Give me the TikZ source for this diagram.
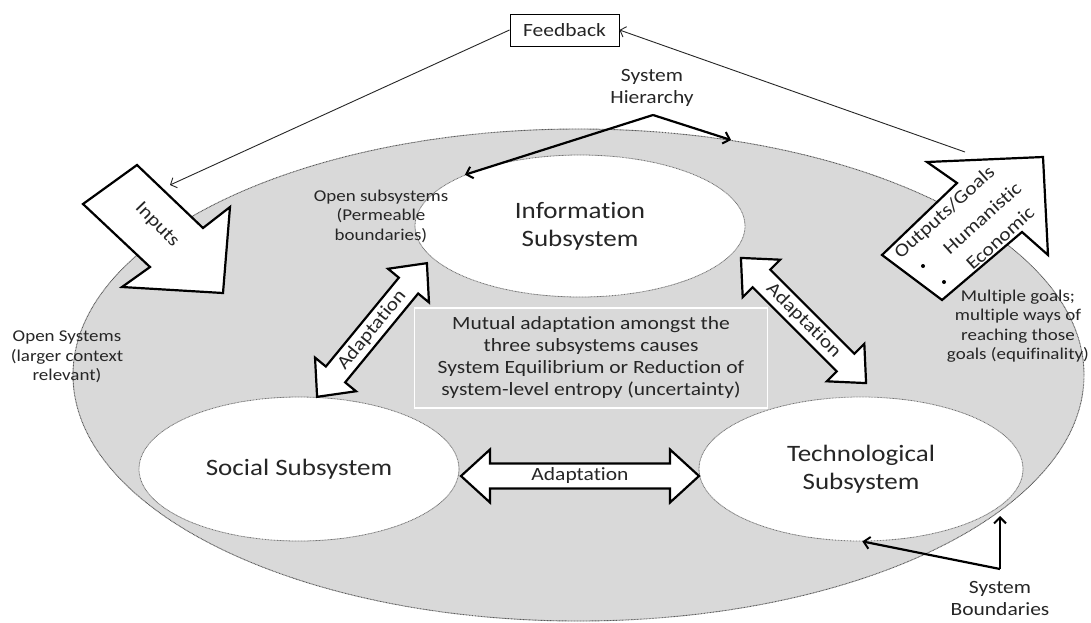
\documentclass[tikz,border=0pt]{standalone}
\usepackage{fontspec}
\setmainfont{Carlito}[FakeStretch=1.15, Ligatures={NoCommon}]
\usetikzlibrary{arrows.meta,shapes.geometric}
\definecolor{bggray}{HTML}{D9D9D9}
\definecolor{txt}{HTML}{262626}
\newcommand{\bigtxt}{\fontsize{23.5}{28}\selectfont}
\newcommand{\medtxt}{\fontsize{18.7}{22}\selectfont}
\newcommand{\smalltxt}{\fontsize{16.5}{19.5}\selectfont}
\newcommand{\blockdbl}[4]{%
  \begin{scope}[shift={#1}, rotate=#2]
    \draw[blockarr] ({-#3/2},0) -- ({-#3/2+29},-26.5) -- ({-#3/2+29},-12.5) -- ({#3/2-29},-12.5) -- ({#3/2-29},-26.5) -- ({#3/2},0) -- ({#3/2-29},26.5) -- ({#3/2-29},12.5) -- ({-#3/2+29},12.5) -- ({-#3/2+29},26.5) -- cycle;
    \node[lbl, rotate=#2, font=\medtxt] at (0,0) {#4};
  \end{scope}}
\begin{document}
\begin{tikzpicture}[x=1pt,y=-1pt,
  lbl/.style={text=txt, align=center, inner sep=0pt},
  bigell/.style={ellipse, draw=black!65, fill=bggray, line width=0.9pt, dash pattern=on 0.9pt off 0.6pt, inner sep=0pt},
  subell/.style={ellipse, draw=black!55, fill=white, line width=0.8pt, dash pattern=on 0.9pt off 0.6pt, inner sep=0pt, text=txt, align=center, font=\bigtxt},
  blockarr/.style={draw=black, line width=2.2pt, fill=white, line join=miter},
  thinarr/.style={draw=black!85, line width=0.9pt, -{Straight Barb[length=5pt,width=11pt,line width=0.9pt]}},
  thickarr/.style={draw=black, line width=2.2pt, -{Straight Barb[length=6pt,width=12pt,line width=2pt]}},
  dot/.style={circle, fill=black, inner sep=0pt, minimum size=4pt}]
\useasboundingbox (0,0) rectangle (1091,622);
\fill[white] (0,0) rectangle (1091,622);

% main system boundary
\node[bigell, minimum width=1011pt, minimum height=492pt] (big) at (578.5,375) {};

% subsystems
\node[subell, minimum width=330pt, minimum height=142pt] (info) at (580,226) {Information\\Subsystem};
\node[subell, minimum width=320pt, minimum height=144pt] (social) at (299,469) {Social Subsystem};
\node[subell, minimum width=324pt, minimum height=144pt] (tech) at (861,469) {Technological\\Subsystem};

% central statement
\node[lbl, draw=white, line width=1.3pt, minimum width=353pt, minimum height=100pt, font=\medtxt] (mid) at (591,358)
  {Mutual adaptation amongst the\\three subsystems causes\\System Equilibrium or Reduction of\\system-level entropy (uncertainty)};

% adaptation arrows
\blockdbl{(580,476)}{0}{238}{Adaptation}
\blockdbl{(372,330)}{50.6}{173}{Adaptation}
\blockdbl{(803.5,320.5)}{-45}{177}{Adaptation}

% inputs arrow
\draw[blockarr] (137,165) -- (203,228) -- (230,207) -- (223,293) -- (122,287) -- (150,267) -- (83,204) -- cycle;
\node[lbl, rotate=-46, font=\medtxt] (inputs) at (157,225) {Inputs};
\coordinate (intop) at (170,185);

% outputs arrow
\draw[blockarr] (927,162) -- (1043,157) -- (1048,255) -- (1022,232) -- (942,300) -- (882,255) -- (957,183) -- cycle;
\node[lbl, rotate=42, font=\medtxt] (outg) at (945,213) {Outputs/Goals};
\node[lbl, rotate=42, font=\medtxt] (hum) at (982,218) {Humanistic};
\node[lbl, rotate=42, font=\medtxt] (eco) at (1000,238) {Economic};
\node[dot] (b1) at (923,266) {};
\node[dot] (b2) at (944,282) {};
\coordinate (outtop) at (965,152);

% feedback
\node[draw=black, line width=1pt, fill=white, minimum width=109pt, minimum height=32pt, inner sep=0pt, text=txt, font=\medtxt] (fb) at (564.5,30) {Feedback};
\draw[thinarr] (fb.west) -- (intop);
\draw[thinarr] (outtop) -- (fb.east);

% system hierarchy
\node[lbl, font=\medtxt] (sh) at (652,88) {System\\Hierarchy};
\coordinate (shv) at (653,115);
\draw[thickarr] (shv) -- (big.57);
\draw[thickarr] (shv) -- (info.156);

% system boundaries
\node[lbl, font=\medtxt] (sb) at (1000,598) {System\\Boundaries};
\coordinate (sbv) at (1000,569);
\draw[thickarr] (sbv) -- (1000,516);
\draw[thickarr] (sbv) -- (tech.-89);

% side texts
\node[lbl, font=\smalltxt] (opensub) at (381,216) {Open subsystems\\(Permeable\\boundaries)};
\node[lbl, font=\smalltxt] (opensys) at (67,357) {Open Systems\\(larger context\\relevant)};
\node[lbl, font=\smalltxt] (multi) at (1018,326) {Multiple goals;\\multiple ways of\\reaching those\\goals (equifinality)};
\end{tikzpicture}
\end{document}
